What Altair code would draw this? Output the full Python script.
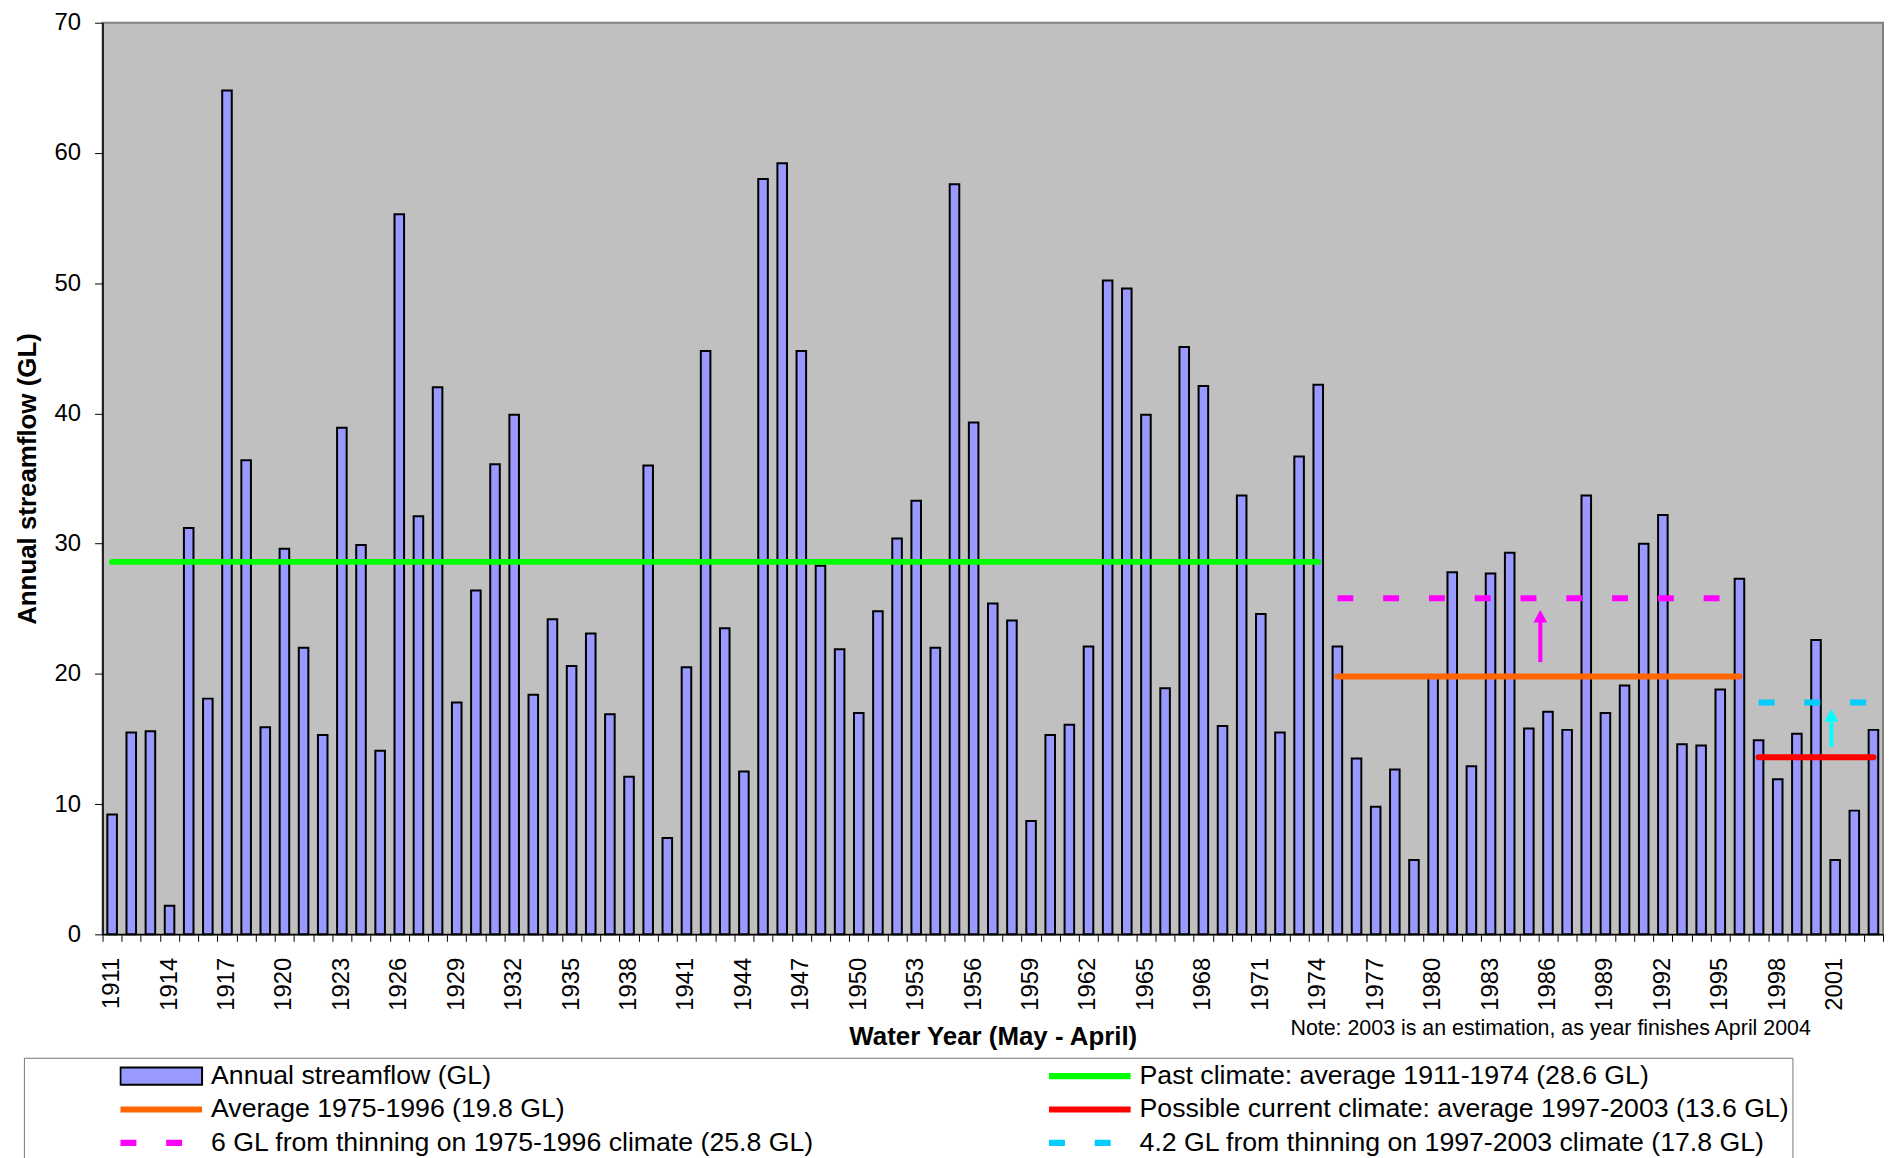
import altair as alt
import pandas as pd

FONT = "Liberation Sans"

# ---------------- data ----------------
years = list(range(1911, 2004))
flow = [9.2, 15.5, 15.6, 2.2, 31.2, 18.1, 64.8, 36.4, 15.9, 29.6,   # 1911-1920
        22.0, 15.3, 38.9, 29.9, 14.1, 55.3, 32.1, 42.0, 17.8, 26.4,   # 1921-1930
        36.1, 39.9, 18.4, 24.2, 20.6, 23.1, 16.9, 12.1, 36.0, 7.4,    # 1931-1940
        20.5, 44.8, 23.5, 12.5, 58.0, 59.2, 44.8, 28.3, 21.9, 17.0,   # 1941-1950
        24.8, 30.4, 33.3, 22.0, 57.6, 39.3, 25.4, 24.1, 8.7, 15.3,    # 1951-1960
        16.1, 22.1, 50.2, 49.6, 39.9, 18.9, 45.1, 42.1, 16.0, 33.7,   # 1961-1970
        24.6, 15.5, 36.7, 42.2, 22.1, 13.5, 9.8, 12.65, 5.7, 19.9,    # 1971-1980
        27.8, 12.9, 27.7, 29.3, 15.8, 17.1, 15.7, 33.7, 17.0, 19.1,   # 1981-1990
        30.0, 32.2, 14.6, 14.5, 18.8, 27.3, 14.9, 11.9, 15.4, 22.6,   # 1991-2000
        5.7, 9.5, 15.7]                                                # 2001-2003

L_BAR = "Annual streamflow (GL)"
L_PAST = "Past climate: average 1911-1974 (28.6 GL)"
L_AVG = "Average 1975-1996 (19.8 GL)"
L_CUR = "Possible current climate: average 1997-2003 (13.6 GL)"
L_THIN1 = "6 GL from thinning on 1975-1996 climate (25.8 GL)"
L_THIN2 = "4.2 GL from thinning on 1997-2003 climate (17.8 GL)"
legend_labels = [L_BAR, L_PAST, L_AVG, L_CUR, L_THIN1, L_THIN2]

line_series = [L_PAST, L_AVG, L_CUR, L_THIN1, L_THIN2]
line_start = [1911, 1975, 1997, 1975, 1997]
line_end = [1974, 1996, 2003, 1996, 2003]
line_value = [28.6, 19.8, 13.6, 25.8, 17.8]
solid_labels = [L_PAST, L_AVG, L_CUR]
dashed_labels = [L_THIN1, L_THIN2]

arrow_series = [L_THIN1, L_THIN2]
arrow_year = [1985.6, 2000.8]
arrow_base = [20.9, 14.4]
arrow_tip = [24.9, 17.3]

NOTE = "Note: 2003 is an estimation, as year finishes April 2004"
X_TITLE = "Water Year (May - April)"
Y_TITLE = "Annual streamflow (GL)"

flow_df = pd.DataFrame({"year": years, "flow": flow})
lines_df = pd.DataFrame({"series": line_series, "start": line_start,
                         "end": line_end, "value": line_value})
arrows_df = pd.DataFrame({"series": arrow_series, "year": arrow_year,
                          "base": arrow_base, "tip": arrow_tip})
legend_df = pd.DataFrame({"series": legend_labels})

# ---------------- styles ----------------
W, H = 1789, 916
SERIES_COLORS = ["#9999FF", "#00FF00", "#FF6600", "#FF0000", "#FF00FF", "#00CCFF"]
RECT = "M-1,-0.21H1V0.21H-1Z"
SOLID = "M-1,-0.075H1V0.075H-1Z"
DASHES = "M-1,-0.075H-0.61V0.075H-1Z M0.12,-0.075H0.51V0.075H0.12Z"
HEAD = "M0,0L1,1.8L-1,1.8Z"

# colour scale for the plotted lines (own domain, so it stays apart from the legend)
line_color_scale = alt.Scale(domain=line_series, range=SERIES_COLORS[1:])
# scales that build the legend
fill_scale = alt.Scale(domain=legend_labels, range=SERIES_COLORS)
stroke_scale = alt.Scale(domain=legend_labels, range=["black"] + ["transparent"] * 5)
shape_scale = alt.Scale(domain=legend_labels, range=[RECT, SOLID, SOLID, SOLID, DASHES, DASHES])

xq = alt.Scale(domain=[years[0] - 0.5, years[-1] + 0.5], nice=False, zero=False)
yscale = alt.Scale(domain=[0, 70], nice=False)

band_axis = alt.Axis(
    values=years[::3], labelAngle=270, labelFont=FONT, labelFontSize=24,
    labelColor="black", labelPadding=23, labelOverlap=False, labelBound=False,
    ticks=True, tickSize=0, tickColor="transparent",
    domain=True, domainColor="black", domainWidth=1.5, grid=False,
    title=X_TITLE, titleFont=FONT, titleFontSize=26, titleFontWeight="bold",
    titleColor="black", titlePadding=13, orient="bottom")

tick_axis = alt.Axis(
    values=[y - 0.5 for y in years] + [years[-1] + 0.5],
    labels=False, ticks=True, tickSize=7, tickColor="black", tickWidth=1,
    domain=False, grid=False, orient="bottom",
    title=NOTE, titleFont=FONT, titleFontSize=21.5, titleFontWeight="normal",
    titleColor="black", titleX=1716, titleY=84, titleAlign="right",
    titleBaseline="top", titleAngle=0)

y_axis = alt.Axis(
    values=list(range(0, 71, 10)), title=Y_TITLE, titleFont=FONT, titleFontSize=26,
    titleFontWeight="bold", titleColor="black", titlePadding=14,
    labelFont=FONT, labelFontSize=24, labelColor="black", labelPadding=14,
    tickSize=8, tickColor="black", domainColor="black", domainWidth=1.5, grid=False)

legend_def = alt.Legend(
    orient="none", legendX=-79, legendY=1040, direction="horizontal", columns=2,
    title=" ", titleOrient="left", titlePadding=93, titleFontSize=1,
    symbolSize=6724, symbolStrokeWidth=2, clipHeight=31, rowPadding=2.5,
    columnPadding=234, labelOffset=8, labelFont=FONT, labelFontSize=26.8,
    labelColor="black", labelLimit=2000,
    strokeColor="#777777", padding=3,
    fillColor="white", symbolStrokeColor="black", symbolFillColor="white",
    symbolOpacity=1)

# ---------------- layers ----------------
bars = alt.Chart(flow_df).mark_bar(fill="#9999FF", stroke="black", strokeWidth=2).encode(
    x=alt.X("year:O", scale=alt.Scale(paddingInner=0.5, paddingOuter=0.25, round=False),
            axis=band_axis),
    y=alt.Y("flow:Q", scale=yscale, axis=y_axis),
)

solid = alt.Chart(lines_df).transform_filter(
    alt.FieldOneOfPredicate(field="series", oneOf=solid_labels)
).mark_rule(strokeWidth=6, strokeCap="round").encode(
    x=alt.X("start:Q", scale=xq, axis=tick_axis),
    x2="end:Q",
    y=alt.Y("value:Q", scale=yscale, axis=y_axis),
    color=alt.Color("series:N", scale=line_color_scale, legend=None),
)

dashed = alt.Chart(lines_df).transform_filter(
    alt.FieldOneOfPredicate(field="series", oneOf=dashed_labels)
).mark_rule(strokeWidth=6, strokeCap="butt", strokeDash=[16, 30]).encode(
    x=alt.X("start:Q", scale=xq, axis=None),
    x2="end:Q",
    y=alt.Y("value:Q", scale=yscale, axis=y_axis),
    color=alt.Color("series:N", scale=line_color_scale, legend=None),
)

arrow_color = alt.condition(alt.datum.series == L_THIN2, alt.value("#00FFFF"), alt.value("#FF00FF"))

shafts = alt.Chart(arrows_df).transform_calculate(top="datum.tip - 0.5").mark_rule(
    strokeWidth=4).encode(
    x=alt.X("year:Q", scale=xq, axis=None),
    y=alt.Y("base:Q", scale=yscale, axis=y_axis),
    y2="top:Q",
    stroke=arrow_color,
)

heads = alt.Chart(arrows_df).mark_point(shape=HEAD, size=196, filled=True, opacity=1,
                                        strokeWidth=0).encode(
    x=alt.X("year:Q", scale=xq, axis=None),
    y=alt.Y("tip:Q", scale=yscale, axis=y_axis),
    fill=arrow_color,
)

legend_layer = alt.Chart(legend_df).transform_filter("false").mark_point(
    opacity=1, filled=True).encode(
    fill=alt.Fill("series:N", scale=fill_scale, legend=legend_def),
    stroke=alt.Stroke("series:N", scale=stroke_scale, legend=legend_def),
    shape=alt.Shape("series:N", scale=shape_scale, legend=legend_def),
)

chart = alt.layer(bars, solid, dashed, shafts, heads, legend_layer).resolve_scale(
    x="independent"
).properties(
    width=W, height=H,
    padding={"left": 6, "top": 0, "right": 3, "bottom": 5},
    view=alt.ViewBackground(fill="#C0C0C0", stroke="#808080", strokeWidth=2),
).configure_view(fill="#C0C0C0", stroke="#808080", strokeWidth=2)

chart.save("out.html", embed_options={"renderer": "svg", "actions": False})
